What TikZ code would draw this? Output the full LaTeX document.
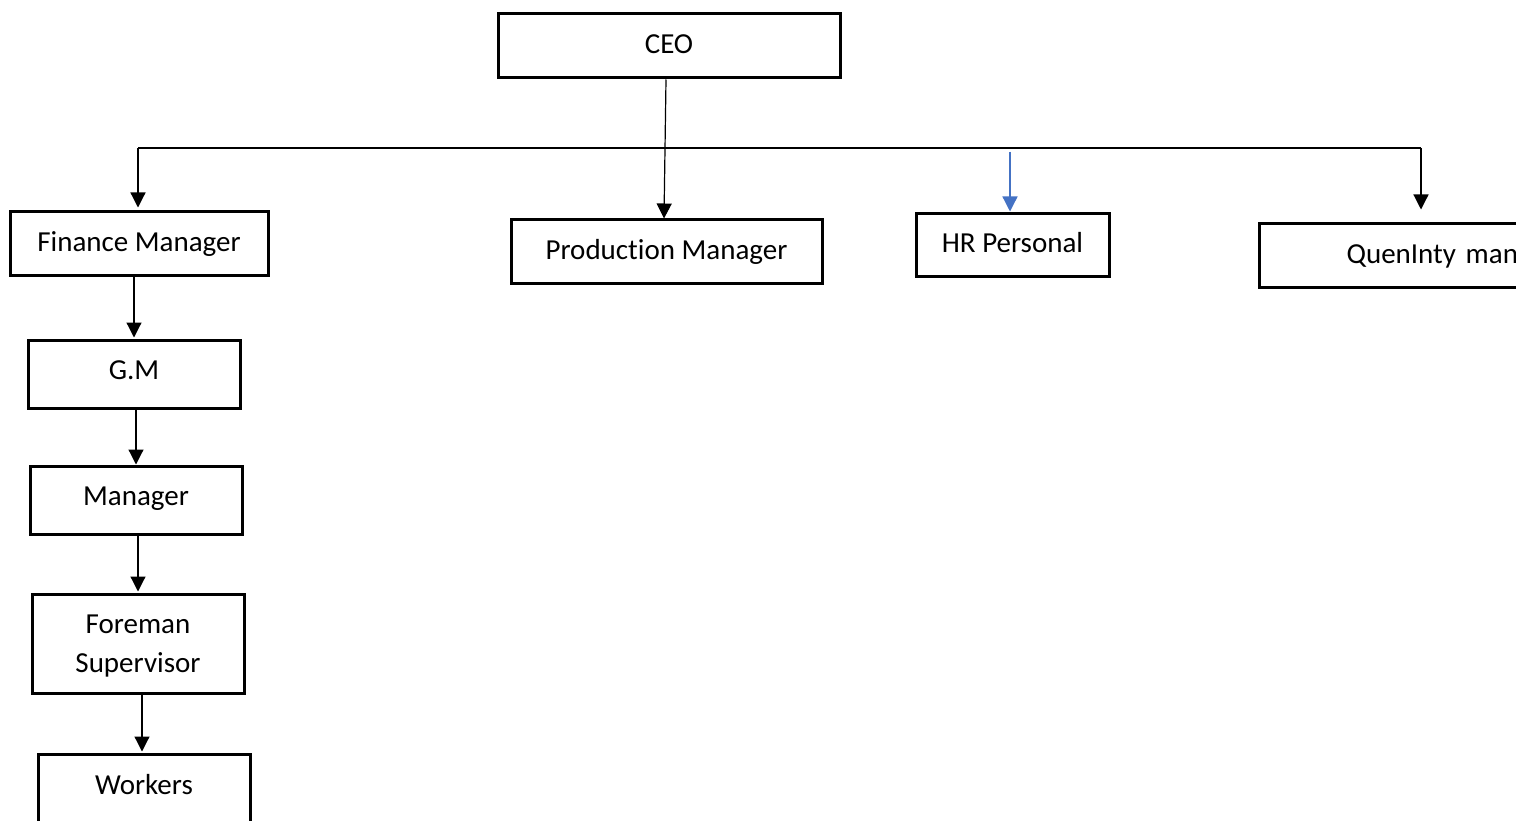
\documentclass[tikz,border=0pt]{standalone}
\usepackage{fontspec}
\setmainfont{Carlito}[Ligatures=NoCommon]
\usetikzlibrary{arrows.meta,calc}
\begin{document}
\begin{tikzpicture}[x=1pt,y=-1pt,
  box/.style={draw=black,line width=3pt,rectangle,inner sep=0pt,
    font=\fontsize{29}{39}\selectfont,align=center,text height=21pt,text depth=6pt},
  raised/.style={text height=19pt,text depth=8pt},
  link/.style={draw=black,line width=1.2pt},
  arr/.style={link,-{Triangle[length=15pt,width=15pt]}},
]
\definecolor{hrblue}{HTML}{4472C4}
\useasboundingbox (0,0) rectangle (1516,821);
\clip (0,0) rectangle (1516,821);

% boxes
\node[box,minimum width=342,minimum height=64] (ceo) at (669,46) {CEO};
\node[box,minimum width=258,minimum height=64] (fm) at (139,244) {Finance Manager};
\node[box,minimum width=311,minimum height=64] (pm) at (666.5,252) {Production Manager};
\node[box,minimum width=193,minimum height=63] (hr) at (1012.5,245.5) {HR Personal};
\node[box,minimum height=64,text width=290,align=left,anchor=west] (qm) at (1258,256)
  {\hspace*{87pt}QuenInty man};
\node[box,raised,minimum width=212,minimum height=68] (gm) at (134,374) {G.M};
\node[box,raised,minimum width=212,minimum height=68] (mgr) at (136,500) {Manager};
\node[box,minimum width=212,minimum height=99,text height=60pt,text depth=3pt] (fs) at (138,643.5)
  {Foreman\\Supervisor};
\node[box,minimum width=212,minimum height=76,text height=0pt,text depth=0pt] (wk) at (144,792)
  {\raisebox{-2pt}{Workers}};

% distribution bar
\coordinate (barL) at (138,148);
\coordinate (barR) at (1421,148);
\coordinate (hrtop) at (1010,152);
\draw[link] (barL) -- (barR);

% top-level connectors
\draw[arr] ($(ceo.south)+(-3,0)$) -- ($(pm.north)+(-2.5,0)$);
\draw[arr,shorten >=3pt] (barL) -- (barL |- fm.north);
\draw[arr,draw=hrblue,fill=hrblue,line width=1.3pt,shorten >=1pt] (hrtop) -- (hrtop |- hr.north);
\draw[arr,shorten >=13pt] (barR) -- (barR |- qm.north);

% finance chain
\draw[arr,shorten >=1pt] (gm.north |- fm.south) -- (gm.north);
\draw[arr] (mgr.north |- gm.south) -- (mgr.north);
\draw[arr,shorten >=1pt] (fs.north |- mgr.south) -- (fs.north);
\draw[arr,shorten >=1pt] ($(wk.north |- fs.south)+(-2,0)$) -- ($(wk.north)+(-2,0)$);
\end{tikzpicture}
\end{document}
